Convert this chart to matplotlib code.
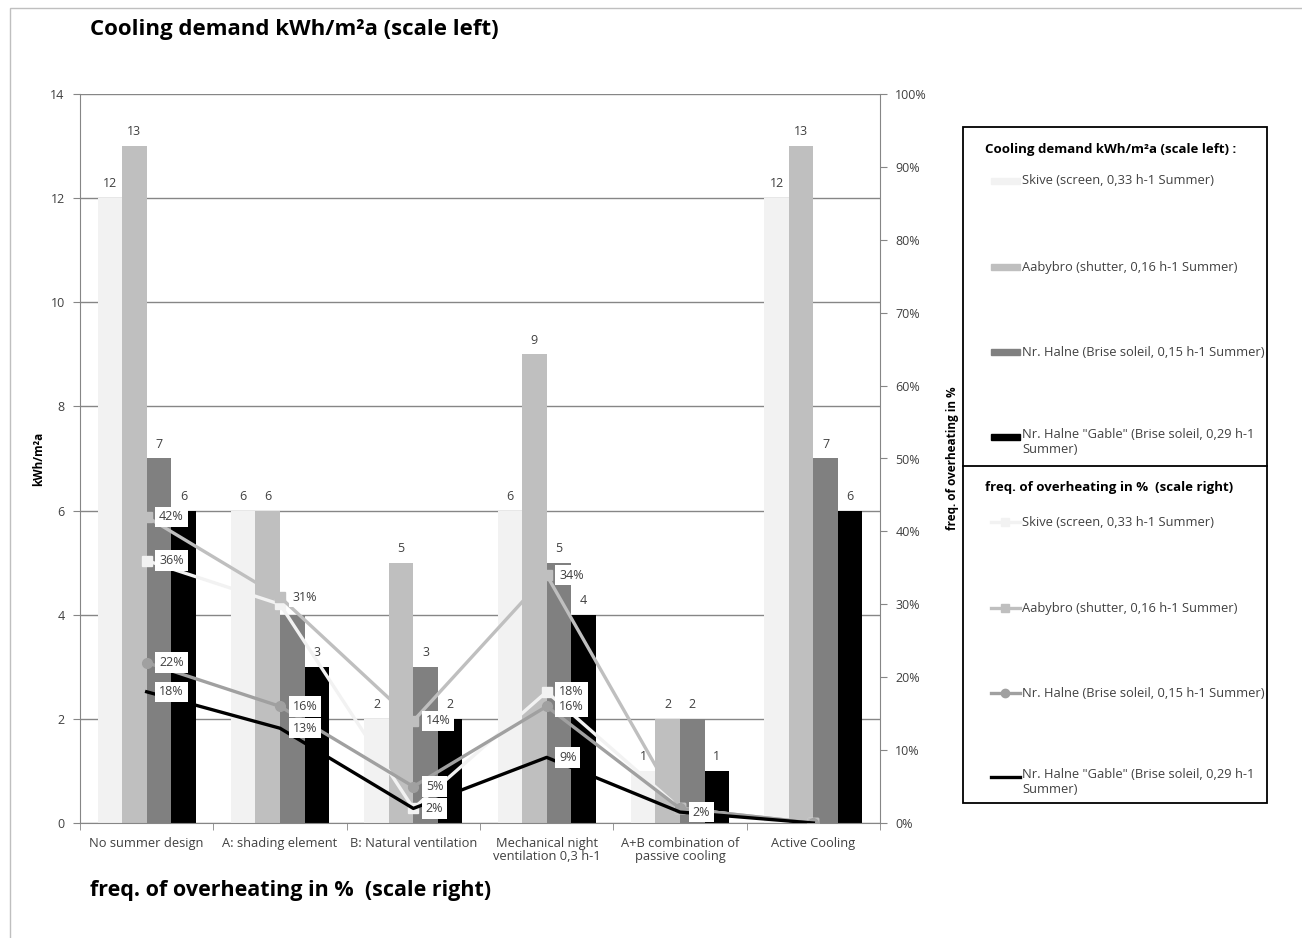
import matplotlib.pyplot as plt
from matplotlib.patches import Rectangle
from matplotlib.lines import Line2D

plt.rcParams['font.family'] = ['Open Sans', 'DejaVu Sans']

categories = ["No summer design", "A: shading element", "B: Natural ventilation",
              "Mechanical night\nventilation 0,3 h-1", "A+B combination of\npassive cooling",
              "Active Cooling"]
series_names = ["Skive (screen, 0,33 h-1 Summer)",
                "Aabybro (shutter, 0,16 h-1 Summer)",
                "Nr. Halne (Brise soleil, 0,15 h-1 Summer)",
                "Nr. Halne \"Gable\" (Brise soleil, 0,29 h-1\nSummer)"]

# cooling demand kWh/m2a (left scale)
cool_skive = [12, 6, 2, 6, 1, 12]
cool_aabybro = [13, 6, 5, 9, 2, 13]
cool_halne = [7, 4, 3, 5, 2, 7]
cool_gable = [6, 3, 2, 4, 1, 6]
# bar value labels that are visible (one is hidden under a line label)
show_halne = [True, False, True, True, True, True]

# frequency of overheating % (right scale)
over_skive = [36, 30, 2, 18, 2, 0]
over_aabybro = [42, 31, 14, 34, 2, 0]
over_halne = [22, 16, 5, 16, 2, 0]
over_gable = [18, 13, 2, 9, 1.5, 0]

# which overheating points carry a label
lab_skive = [True, False, False, True, False, False]
lab_aabybro = [True, True, True, True, False, False]
lab_halne = [True, True, True, True, False, False]
lab_gable = [True, True, True, True, True, False]

bar_cols = ["#f2f2f2", "#bfbfbf", "#808080", "#000000"]
line_cols = ["#f2f2f2", "#bfbfbf", "#a0a0a0", "#000000"]
markers = ["s", "s", "o", None]

cool = [cool_skive, cool_aabybro, cool_halne, cool_gable]
bar_show = [[True] * 6, [True] * 6, show_halne, [True] * 6]
over = [over_skive, over_aabybro, over_halne, over_gable]
labs = [lab_skive, lab_aabybro, lab_halne, lab_gable]

fig = plt.figure(figsize=(13.02, 9.38), dpi=100)
W, H = 1302.0, 938.0

# chart area border
fig.patches.append(Rectangle((10 / W, -0.01), 1.2, 1 - 8 / H + 0.01, transform=fig.transFigure,
                             fill=False, edgecolor="#bfbfbf", lw=1))

ax = fig.add_axes([80 / W, 1 - 823 / H, 800 / W, 729 / H])
x = list(range(len(categories)))
w = 0.184
for i in range(4):
    xs = [xi + (i - 1.5) * w for xi in x]
    ax.bar(xs, cool[i], width=w, color=bar_cols[i], zorder=2)
    for xb, v, show in zip(xs, cool[i], bar_show[i]):
        if show:
            ax.text(xb, v + 0.15, str(v), ha="center", va="bottom", fontsize=9,
                    color="#404040", zorder=3)

ax.set_xlim(-0.5, 5.5)
ax.set_ylim(0, 14)
ax.set_yticks(range(0, 15, 2))
ax.yaxis.grid(True, color="#868686", lw=1)
ax.set_axisbelow(True)
ax.set_xticks(x)
ax.set_xticklabels(categories, fontsize=9.3, color="#404040", linespacing=1.0)
ax.set_xticks([xi - 0.5 for xi in x] + [5.5], minor=True)
ax.tick_params(axis="x", which="major", length=0, pad=10)
ax.tick_params(axis="x", which="minor", length=5, color="#868686")
ax.tick_params(axis="y", length=5, color="#868686", labelsize=9, labelcolor="#404040", pad=6)
for s in ["top", "right"]:
    ax.spines[s].set_visible(False)
for s in ["left", "bottom"]:
    ax.spines[s].set_color("#868686")
ax.set_ylabel("kWh/m²a", fontsize=8.5, fontweight="bold")
ax.yaxis.set_label_coords(-35 / 800, 0.5)

ax2 = ax.twinx()
ax2.set_ylim(0, 100)
ax2.set_yticks(range(0, 101, 10))
ax2.set_yticklabels(["%d%%" % t for t in range(0, 101, 10)])
ax2.tick_params(axis="y", length=5, color="#868686", labelsize=9, labelcolor="#404040", pad=6)
for s in ["top", "left", "bottom"]:
    ax2.spines[s].set_visible(False)
ax2.spines["right"].set_color("#868686")
ax2.set_ylabel("freq. of overheating in %", fontsize=8.5, fontweight="bold")
ax2.yaxis.set_label_coords(866 / 800, 0.5)

for i in range(4):
    ax2.plot(x, over[i], color=line_cols[i], lw=2.4, marker=markers[i], markersize=7,
             markeredgecolor=line_cols[i], zorder=3)
    for xi, v, show in zip(x, over[i], labs[i]):
        if show:
            ax2.annotate("%.0f%%" % v, (xi, v), xytext=(9, 0), textcoords="offset points",
                         ha="left", va="center", fontsize=9, color="#404040", zorder=5,
                         bbox=dict(boxstyle="square,pad=0.3", fc="white", ec="none"))

fig.text(90 / W, 1 - 30 / H, "Cooling demand kWh/m²a (scale left)", fontsize=16,
         fontweight="bold", va="center", ha="left")
fig.text(90 / W, 1 - 890 / H, "freq. of overheating in %  (scale right)", fontsize=15.5,
         fontweight="bold", va="center", ha="left")

# legend box
fig.patches.append(Rectangle((963 / W, 1 - 803 / H), 304 / W, 676 / H, transform=fig.transFigure,
                             fill=False, edgecolor="black", lw=1.3))
fig.lines.append(Line2D([963 / W, 1267 / W], [1 - 466 / H, 1 - 466 / H],
                        transform=fig.transFigure, color="black", lw=1.3))
fig.text(985 / W, 1 - 149 / H, "Cooling demand kWh/m²a (scale left) :", fontsize=9.5,
         fontweight="bold", va="center")
fig.text(985 / W, 1 - 487 / H, "freq. of overheating in %  (scale right)", fontsize=9.5,
         fontweight="bold", va="center")
bar_rows = [181, 267, 352, 437]
line_rows = [522, 608, 693, 777]
for i in range(4):
    yb = bar_rows[i]
    fig.patches.append(Rectangle((991 / W, 1 - (yb + 3) / H), 29 / W, 6 / H,
                                 transform=fig.transFigure, color=bar_cols[i]))
    fig.text(1022 / W, 1 - (yb - 9) / H if i == 3 else 1 - yb / H, series_names[i],
             fontsize=9.3, color="#404040", va="top" if i == 3 else "center", linespacing=1.2)
    yl = line_rows[i]
    fig.lines.append(Line2D([991 / W, 1020 / W], [1 - yl / H, 1 - yl / H],
                            transform=fig.transFigure, color=line_cols[i], lw=2.4))
    if markers[i]:
        fig.lines.append(Line2D([1005 / W], [1 - yl / H], transform=fig.transFigure,
                                color=line_cols[i], marker=markers[i], markersize=6))
    fig.text(1022 / W, 1 - (yl - 9) / H if i == 3 else 1 - yl / H, series_names[i],
             fontsize=9.3, color="#404040", va="top" if i == 3 else "center", linespacing=1.2)

fig.savefig("out.png", dpi=100)
